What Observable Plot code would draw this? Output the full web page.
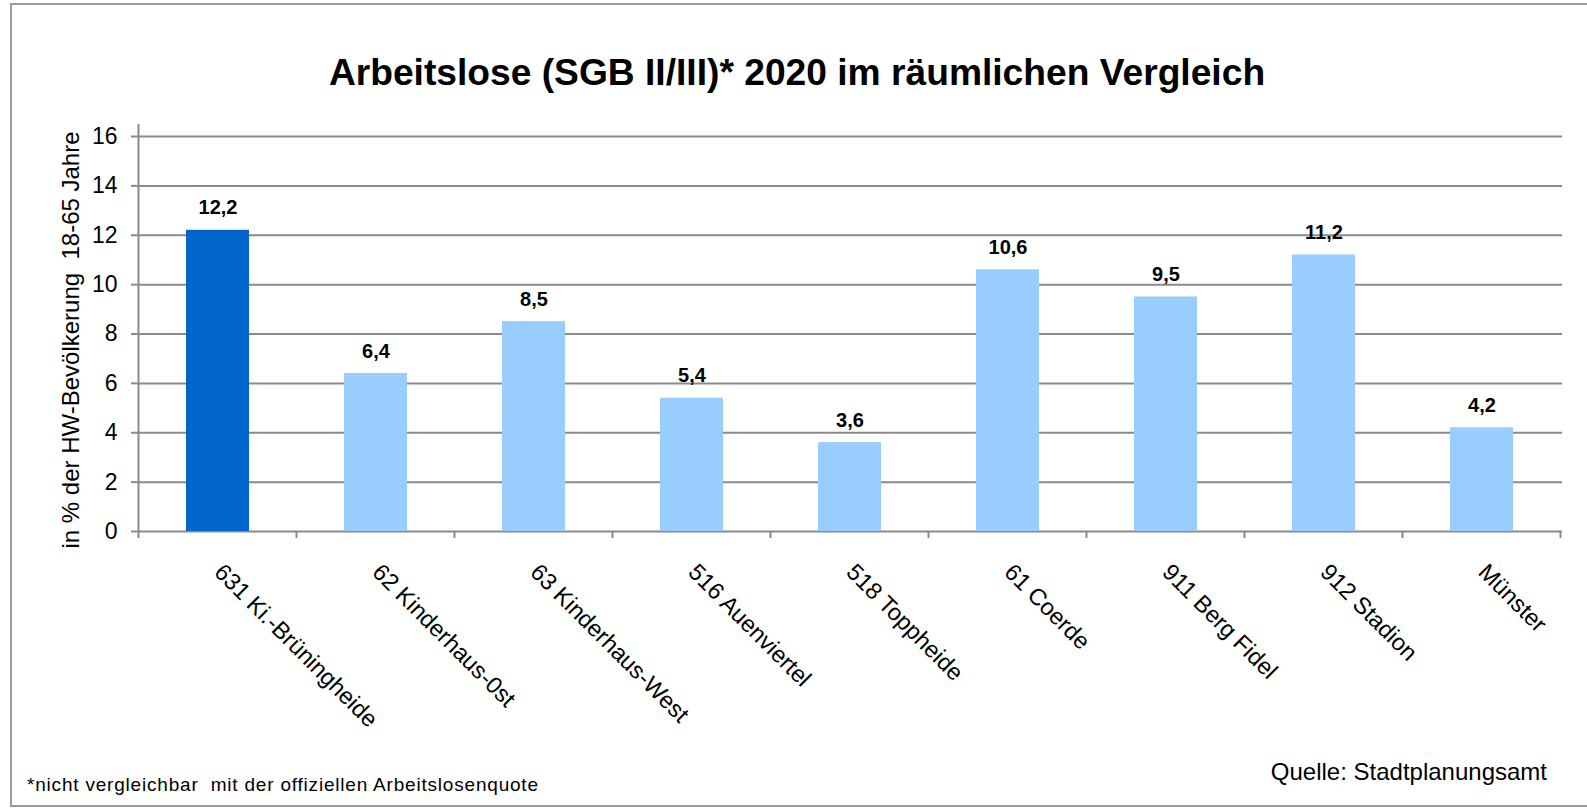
<!DOCTYPE html>
<html>
<head>
<meta charset="utf-8">
<script src="https://cdn.jsdelivr.net/npm/d3@7"></script>
<script src="https://cdn.jsdelivr.net/npm/@observablehq/plot@0.6"></script>
<style>
  html, body { margin: 0; padding: 0; background: #fff; }
  #wrap { position: relative; width: 1587px; height: 808px; overflow: hidden; background: #fff;
          font-family: "Liberation Sans", Arial, Helvetica, sans-serif; color: #000; }
  #chart { position: absolute; left: 0; top: 0; }
  #border { position: absolute; left: 10px; top: 3px; width: 1640px; height: 804px; box-sizing: border-box;
            border-left: 2px solid #9a9a9a; border-top: 2px solid #9a9a9a; border-bottom: 2px solid #9a9a9a;
            pointer-events: none; z-index: 3; }
  .txt { position: absolute; white-space: pre; line-height: 1; z-index: 2; }
  #title { left: 0; width: 1594px; text-align: center; top: 53.5px; font-size: 37.2px; font-weight: bold; }
  #source { right: 40px; top: 759.5px; font-size: 24px; }
  #note { left: 27px; top: 775px; font-size: 19px; letter-spacing: 0.8px; }
  g[aria-label="y-axis tick"] { stroke: #8a8a8a; stroke-width: 2px; }
</style>
</head>
<body>
<div id="wrap">
  <div id="chart"></div>
  <div id="title" class="txt"></div>
  <div id="source" class="txt"></div>
  <div id="note" class="txt"></div>
  <div id="border"></div>
</div>
<script>
// ---- data ----
const titleText = "Arbeitslose (SGB II/III)* 2020 im räumlichen Vergleich";
const yLabel = "in % der HW-Bevölkerung\u00a0 18-65 Jahre";
const sourceText = "Quelle: Stadtplanungsamt";
const noteText = "*nicht vergleichbar  mit der offiziellen Arbeitslosenquote";

const categories = [
  "631 Ki.-Brüningheide",
  "62 Kinderhaus-0st",
  "63 Kinderhaus-West",
  "516 Auenviertel",
  "518 Toppheide",
  "61 Coerde",
  "911 Berg Fidel",
  "912 Stadion",
  "Münster"
];
const values = [12.2, 6.4, 8.5, 5.4, 3.6, 10.6, 9.5, 11.2, 4.2];
const valueLabels = ["12,2", "6,4", "8,5", "5,4", "3,6", "10,6", "9,5", "11,2", "4,2"];
const groups = ["Fokus", "Vergleich", "Vergleich", "Vergleich", "Vergleich", "Vergleich", "Vergleich", "Vergleich", "Vergleich"];
const yTicks = [0, 2, 4, 6, 8, 10, 12, 14, 16];

document.getElementById("title").textContent = titleText;
document.getElementById("source").textContent = sourceText;
document.getElementById("note").textContent = noteText;

const data = categories.map((c, i) => ({cat: c, value: values[i], label: valueLabels[i], group: groups[i]}));

const gridColor = "#8a8a8a";

function axisDecor(index, scales, values, dimensions) {
  const x = scales.x, y = scales.y;
  const step = x(categories[1]) - x(categories[0]);
  const bw = typeof x.bandwidth === "function" ? x.bandwidth() : step * 0.4;
  const gap = (step - bw) / 2;
  const edges = categories.map(c => x(c) - gap);
  edges.push(x(categories[categories.length - 1]) + bw + gap);
  const y0 = y(0);
  const g = d3.create("svg:g").attr("stroke", gridColor).attr("stroke-width", 2).attr("fill", "none");
  g.selectAll("line.tick").data(edges).join("line")
    .attr("class", "tick")
    .attr("x1", d => d).attr("x2", d => d)
    .attr("y1", y0).attr("y2", y0 + 7);
  g.append("line")
    .attr("x1", edges[0]).attr("x2", edges[0])
    .attr("y1", y(16) - 12).attr("y2", y0 + 1);
  return g.node();
}

const chart = Plot.plot({
  width: 1587,
  height: 808,
  marginLeft: 137,
  marginRight: 25,
  marginTop: 136,
  marginBottom: 277,
  style: {fontFamily: "Liberation Sans, Arial, Helvetica, sans-serif", fontSize: "23px", color: "#000", background: "transparent", overflow: "visible"},
  x: {domain: categories, paddingInner: 0.6, paddingOuter: 0.3, axis: null},
  y: {domain: [0, 16], ticks: yTicks, tickSize: 6, tickPadding: 14, tickFormat: d => String(d), label: null},
  color: {domain: ["Fokus", "Vergleich"], range: ["#0066CC", "#99CCFF"]},
  marks: [
    Plot.ruleY(yTicks, {stroke: gridColor, strokeWidth: 2}),
    Plot.barY(data, {x: "cat", y: "value", fill: "group"}),
    Plot.text(data, {x: "cat", y: "value", text: "label", lineAnchor: "bottom", dy: -16, fontSize: 20, fontWeight: "bold", fill: "#000"}),
    Plot.text(data, {x: "cat", text: "cat", frameAnchor: "bottom", rotate: 45, textAnchor: "start", lineAnchor: "bottom", dx: -5, dy: 42, fontSize: 23.5, fill: "#000"}),
    Plot.text([yLabel], {text: d => d, frameAnchor: "left", rotate: -90, textAnchor: "middle", lineAnchor: "bottom", dx: -59, dy: 6, fontSize: 24, fill: "#000"}),
    axisDecor
  ]
});
document.getElementById("chart").appendChild(chart);
</script>
</body>
</html>
